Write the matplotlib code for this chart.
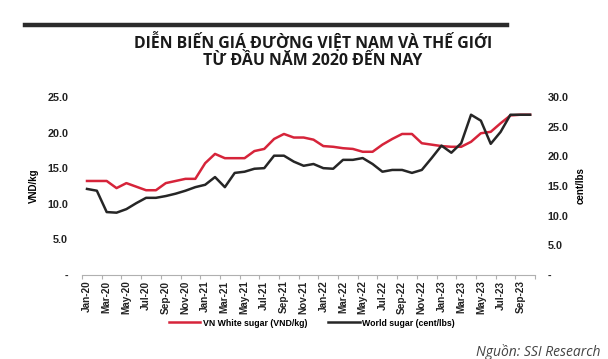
import matplotlib.pyplot as plt
from matplotlib.lines import Line2D

# monthly data, Jan-20 .. Oct-23
months = ["Jan-20", "Feb-20", "Mar-20", "Apr-20", "May-20", "Jun-20", "Jul-20", "Aug-20",
          "Sep-20", "Oct-20", "Nov-20", "Dec-20", "Jan-21", "Feb-21", "Mar-21", "Apr-21",
          "May-21", "Jun-21", "Jul-21", "Aug-21", "Sep-21", "Oct-21", "Nov-21", "Dec-21",
          "Jan-22", "Feb-22", "Mar-22", "Apr-22", "May-22", "Jun-22", "Jul-22", "Aug-22",
          "Sep-22", "Oct-22", "Nov-22", "Dec-22", "Jan-23", "Feb-23", "Mar-23", "Apr-23",
          "May-23", "Jun-23", "Jul-23", "Aug-23", "Sep-23", "Oct-23"]
vn_sugar = [13.2, 13.2, 13.2, 12.2, 12.9, 12.4, 11.9, 11.9, 12.9, 13.2, 13.5, 13.5,
            15.7, 17.0, 16.4, 16.4, 16.4, 17.4, 17.7, 19.1, 19.8, 19.3, 19.3, 19.0,
            18.1, 18.0, 17.8, 17.7, 17.3, 17.3, 18.3, 19.1, 19.8, 19.8, 18.5, 18.3,
            18.1, 18.0, 18.0, 18.7, 19.9, 20.1, 21.3, 22.4, 22.5, 22.5]
world_sugar = [14.5, 14.2, 10.6, 10.5, 11.1, 12.1, 13.0, 13.0, 13.3, 13.7, 14.2, 14.8,
               15.2, 16.5, 14.8, 17.2, 17.4, 17.9, 18.0, 20.1, 20.1, 19.1, 18.4, 18.7,
               18.0, 17.9, 19.4, 19.4, 19.7, 18.7, 17.4, 17.7, 17.7, 17.2, 17.7, 19.7,
               21.8, 20.6, 22.2, 27.0, 26.0, 22.1, 24.1, 27.0, 27.0, 27.0]
left_ticks = [0, 5, 10, 15, 20, 25]
right_ticks = [0, 5, 10, 15, 20, 25, 30]

RED = "#d6243a"
BLACK = "#262626"
narrow = ["Liberation Sans Narrow", "Liberation Sans", "DejaVu Sans"]
plt.rcParams["font.family"] = narrow

fig = plt.figure(figsize=(6.08, 3.59), dpi=100)
ax = fig.add_axes([0.135, 0.234, 0.745, 0.496])
ax2 = ax.twinx()

x = list(range(len(months)))
ax.plot(x, vn_sugar, color=RED, lw=1.8, solid_joinstyle="round")
ax2.plot(x, world_sugar, color=BLACK, lw=1.8, solid_joinstyle="round")

ax.set_xlim(-0.5, len(months) - 0.5)
ax.set_ylim(0, 25)
ax2.set_ylim(0, 30)

def fmt(v):
    return "-" if v == 0 else f"{v:.1f}"

ax.set_yticks(left_ticks)
ax.set_yticklabels([fmt(v) for v in left_ticks])
ax2.set_yticks(right_ticks)
ax2.set_yticklabels([fmt(v) for v in right_ticks])
ax.tick_params(axis="y", length=0, labelsize=7.8, pad=10)
ax2.tick_params(axis="y", length=0, labelsize=7.8, pad=9)
for a in (ax, ax2):
    for lbl in a.get_yticklabels():
        lbl.set_fontweight("bold")
        lbl.set_color("#222222")
    for s in ("top", "left", "right"):
        a.spines[s].set_visible(False)
ax2.spines["bottom"].set_visible(False)
ax.spines["bottom"].set_color("#b0b0b0")
ax.spines["bottom"].set_linewidth(0.8)

ax.set_xticks(x[::2])
ax.set_xticklabels(months[::2], rotation=90, fontsize=7.2, fontweight="bold", color="#222222")
ax.set_xticks([i - 0.5 for i in range(0, len(months) + 1, 2)], minor=True)
ax.tick_params(axis="x", which="major", length=0, pad=4)
ax.tick_params(axis="x", which="minor", length=3, color="#b0b0b0", width=0.8)

ax.set_ylabel("VND/kg", fontsize=7, fontweight="bold", labelpad=6)
ax2.set_ylabel("cent/lbs", fontsize=7, fontweight="bold", labelpad=5)

# top rule and title
fig.add_artist(Line2D([25 / 608, 507 / 608], [1 - 25 / 359] * 2, color="#2b2b2b", lw=3.2))
title_font = ["Open Sans", "DejaVu Sans"]
fig.text(0.515, 1 - 42 / 359, "DIỄN BIẾN GIÁ ĐƯỜNG VIỆT NAM VÀ THẾ GIỚI",
         ha="center", va="center", fontsize=11.4, fontweight="bold", family=title_font,
         color="#1a1a1a")
fig.text(0.515, 1 - 61 / 359, "TỪ ĐẦU NĂM 2020 ĐẾN NAY",
         ha="center", va="center", fontsize=11.4, fontweight="bold", family=title_font,
         color="#1a1a1a")

handles = [Line2D([], [], color=RED, lw=1.8), Line2D([], [], color=BLACK, lw=1.8)]
fig.legend(handles, ["VN White sugar (VND/kg)", "World sugar (cent/lbs)"],
           loc="center", bbox_to_anchor=(0.513, 1 - 323 / 359), ncol=2, frameon=False,
           prop={"size": 6.3, "weight": "bold"}, handlelength=3.6, columnspacing=2.4,
           handletextpad=0.3)

fig.text(0.987, 1 - 352 / 359, "Nguồn: SSI Research", ha="right", va="center",
         fontsize=10, style="italic", color="#444444", family=title_font)

fig.savefig("out.png", dpi=100)
